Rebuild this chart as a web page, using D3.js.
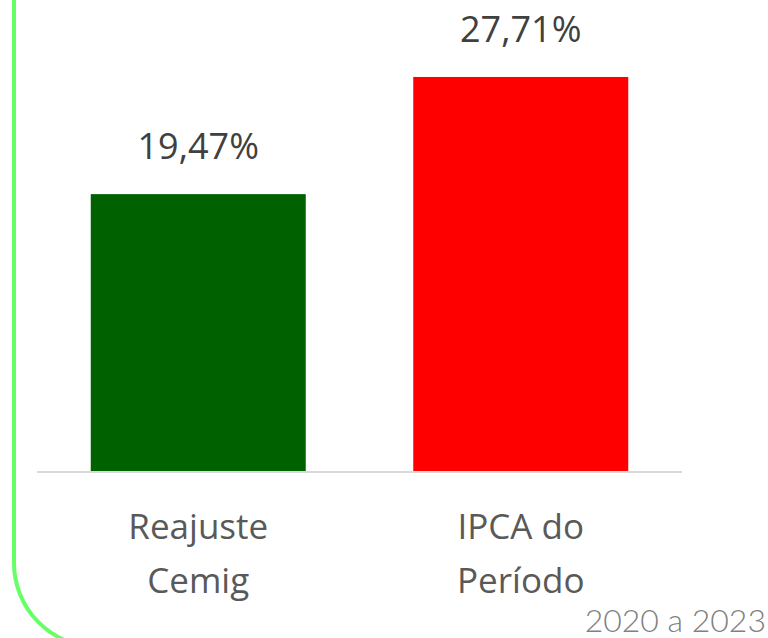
<!DOCTYPE html>
<html>
<head>
<meta charset="utf-8">
<script src="https://cdn.jsdelivr.net/npm/d3@7"></script>
<style>
  body { margin: 0; background: #fff; }
  svg { display: block; }
</style>
</head>
<body>
<div class="chart-area"></div>
<script>
var categories = [["Reajuste", "Cemig"], ["IPCA do", "Período"]];
var values = [19.47, 27.71];
var valueLabels = ["19,47%", "27,71%"];
var colors = ["#006100", "#ff0000"];
var periodLabel = "2020 a 2023";

var svg = d3.select(".chart-area")
    .append("svg")
    .attr("width", 768)
    .attr("height", 638);

// green rounded frame on the left
svg.append("path")
    .attr("d", "M 14 -5 L 14 563 A 84 84 0 0 0 98 647 L 900 647")
    .attr("fill", "none")
    .attr("stroke", "#66ff66")
    .attr("stroke-width", 4);

var x = d3.scaleBand()
    .domain(d3.range(values.length))
    .range([37, 682])
    .paddingInner(1 / 3)
    .paddingOuter(1 / 6);

var y = d3.scaleLinear()
    .domain([0, 30])
    .range([471, 471 - 30 * 14.22]);

svg.selectAll("rect.bar")
    .data(values)
    .enter()
    .append("rect")
    .attr("class", "bar")
    .attr("x", function(d, i) { return x(i); })
    .attr("width", x.bandwidth())
    .attr("y", function(d) { return y(d); })
    .attr("height", function(d) { return y(0) - y(d); })
    .attr("fill", function(d, i) { return colors[i]; });

// baseline
svg.append("line")
    .attr("x1", 37).attr("x2", 682)
    .attr("y1", 472).attr("y2", 472)
    .attr("stroke", "#d9d9d9")
    .attr("stroke-width", 2);

svg.selectAll("text.value")
    .data(values)
    .enter()
    .append("text")
    .attr("class", "value")
    .attr("x", function(d, i) { return x(i) + x.bandwidth() / 2; })
    .attr("y", function(d) { return y(d) - 35; })
    .attr("text-anchor", "middle")
    .attr("font-family", "Open Sans")
    .attr("font-size", 36)
    .attr("fill", "#404040")
    .text(function(d, i) { return valueLabels[i]; });

var cat = svg.selectAll("text.cat")
    .data(categories)
    .enter()
    .append("text")
    .attr("class", "cat")
    .attr("text-anchor", "middle")
    .attr("font-family", "Open Sans")
    .attr("font-size", 35)
    .attr("fill", "#595959");

cat.selectAll("tspan")
    .data(function(d, i) { return d.map(function(s) { return { s: s, i: i }; }); })
    .enter()
    .append("tspan")
    .attr("x", function(d) { return x(d.i) + x.bandwidth() / 2; })
    .attr("y", function(d, j) { return 539 + j * 54; })
    .text(function(d) { return d.s; });

svg.append("text")
    .attr("x", 766)
    .attr("y", 632)
    .attr("text-anchor", "end")
    .attr("font-family", "Lato")
    .attr("font-weight", 300)
    .attr("font-size", 32)
    .attr("fill", "#808080")
    .text(periodLabel);
</script>
</body>
</html>
